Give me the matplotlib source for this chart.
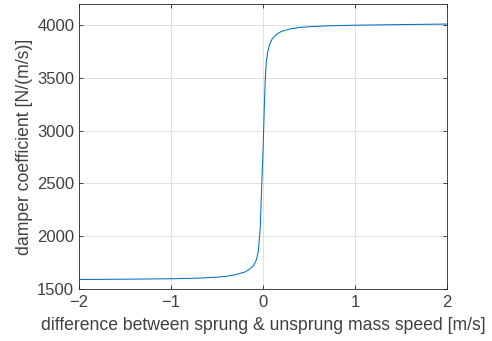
import matplotlib
matplotlib.use("Agg")
import matplotlib.pyplot as plt

# relative speed [m/s] and damper coefficient [N/(m/s)]
speed = [-2.0, -1.5, -1.0, -0.7, -0.5, -0.4, -0.3, -0.2, -0.15, -0.1, -0.07,
         -0.05, -0.03, -0.015, 0.0, 0.007, 0.015, 0.025, 0.035, 0.05, 0.07,
         0.1, 0.15, 0.2, 0.3, 0.4, 0.5, 0.7, 1.0, 1.5, 2.0]
damping = [1590, 1593, 1597, 1603, 1612, 1620, 1635, 1660, 1685, 1725, 1780,
           1860, 2080, 2450, 2800, 3000, 3250, 3500, 3640, 3740, 3815,
           3870, 3915, 3940, 3965, 3978, 3985, 3993, 3999, 4005, 4010]

xticks = [-2, -1, 0, 1, 2]
yticks = [1500, 2000, 2500, 3000, 3500, 4000]

plt.rcParams['font.family'] = ['Liberation Sans', 'DejaVu Sans']

fig = plt.figure(figsize=(4.92, 3.41), dpi=100)
ax = fig.add_axes([79 / 492, 52 / 341, 368 / 492, 285 / 341])

ax.plot(speed, damping, color='#0072BD', linewidth=0.75)

ax.set_xlim(-2, 2)
ax.set_ylim(1500, 4200)
ax.set_xticks(xticks)
ax.set_yticks(yticks)
ax.grid(True, color='#dcdcdc', linewidth=0.6)
ax.set_axisbelow(True)

for s in ax.spines.values():
    s.set_color('#262626')
    s.set_linewidth(0.6)
ax.tick_params(direction='in', length=3, width=0.6, colors='#262626',
               labelcolor='#404040', labelsize=12, top=True, right=True)
ax.tick_params(axis='x', pad=4)

ax.set_xlabel('difference between sprung & unsprung mass speed [m/s]',
              fontsize=12.7, color='#404040', labelpad=5)
ax.set_ylabel('damper coefficient [N/(m/s)]', fontsize=12.7,
              color='#404040', labelpad=3)

fig.savefig('out.png', dpi=100)
